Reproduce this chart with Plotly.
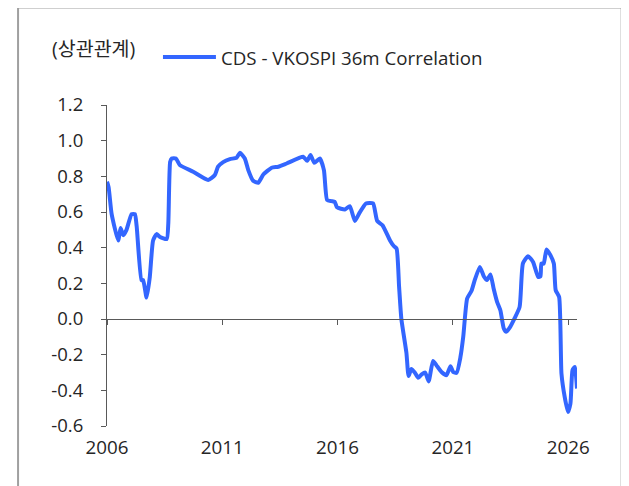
import plotly.graph_objects as go

# ---- data ----
dates = [
    "2006-01-01", "2006-01-26", "2006-03-15", "2006-06-28", "2006-08-04", "2006-09-16", "2006-11-06",
    "2007-01-26", "2007-03-18", "2007-04-16", "2007-07-01", "2007-07-27", "2007-09-20", "2007-11-10",
    "2008-01-01", "2008-02-25", "2008-04-20", "2008-08-04", "2008-08-29", "2008-09-27", "2008-10-23",
    "2008-12-27", "2009-02-28", "2009-09-27", "2010-05-22", "2010-09-05", "2010-10-26",
    "2011-01-15", "2011-05-01", "2011-08-15", "2011-10-08", "2011-12-24",
    "2012-02-17", "2012-05-04", "2012-07-24", "2012-10-12",
    "2013-02-21", "2013-06-07", "2013-10-16",
    "2014-07-05", "2014-09-06", "2014-10-30", "2014-12-28",
    "2015-03-26", "2015-05-30", "2015-07-20", "2015-09-27", "2015-11-17", "2015-12-24",
    "2016-04-27", "2016-07-13", "2016-10-01", "2016-12-09",
    "2017-03-26", "2017-07-16", "2017-09-20", "2017-12-13",
    "2018-04-09", "2018-06-10", "2018-07-24", "2018-09-02", "2018-10-08", "2018-12-27",
    "2019-01-30", "2019-03-15", "2019-05-08", "2019-07-02", "2019-08-26", "2019-10-20", "2019-12-14",
    "2020-02-21", "2020-04-16", "2020-07-05", "2020-09-20", "2020-11-24",
    "2021-01-05", "2021-03-01", "2021-05-01", "2021-06-14", "2021-08-15", "2021-10-23", "2021-12-13",
    "2022-03-04", "2022-05-05", "2022-06-25", "2022-08-19", "2022-10-08", "2022-12-02",
    "2023-01-23", "2023-03-18", "2023-04-27", "2023-06-28", "2023-09-05", "2023-11-24",
    "2024-01-15", "2024-04-05", "2024-06-24", "2024-09-13", "2024-10-19", "2024-11-03", "2024-12-09",
    "2025-01-23", "2025-03-26", "2025-05-19", "2025-06-17", "2025-08-11", "2025-09-17", "2025-11-07",
    "2025-12-28", "2026-02-06", "2026-03-11", "2026-04-16", "2026-05-21",
]
correlation = [
    0.77, 0.74, 0.59, 0.44, 0.51, 0.47, 0.50,
    0.588, 0.588, 0.52, 0.218, 0.218, 0.12, 0.236,
    0.44, 0.476, 0.46, 0.448, 0.536, 0.88, 0.90,
    0.90, 0.863, 0.826, 0.78, 0.807, 0.854,
    0.88, 0.897, 0.904, 0.932, 0.90,
    0.835, 0.775, 0.764, 0.81,
    0.848, 0.854, 0.872,
    0.91, 0.887, 0.919, 0.876,
    0.90, 0.835, 0.667, 0.661, 0.657, 0.626,
    0.614, 0.633, 0.55, 0.592,
    0.648, 0.648, 0.55, 0.526,
    0.442, 0.409, 0.395, 0.18, 0.0, -0.19,
    -0.32, -0.28, -0.30, -0.33, -0.31, -0.30, -0.35,
    -0.235, -0.26, -0.297, -0.315, -0.265,
    -0.297, -0.302, -0.213, -0.10, 0.115, 0.158, 0.218,
    0.292, 0.24, 0.218, 0.25, 0.171, 0.096,
    0.049, -0.053, -0.072, -0.044, 0.003, 0.068,
    0.311, 0.352, 0.32, 0.236, 0.24, 0.311, 0.31,
    0.39, 0.358, 0.311, 0.162, 0.124, -0.306, -0.437,
    -0.521, -0.474, -0.287, -0.269, -0.39,
]
series_name = "CDS - VKOSPI 36m Correlation"
unit_label = "(상관관계)"

x_tick_vals = ["2006-01-01", "2011-01-01", "2016-01-01", "2021-01-01", "2026-01-01"]
x_tick_text = ["2006", "2011", "2016", "2021", "2026"]
y_tick_vals = [1.2, 1.0, 0.8, 0.6, 0.4, 0.2, 0.0, -0.2, -0.4, -0.6]
y_tick_text = ["1.2", "1.0", "0.8", "0.6", "0.4", "0.2", "0.0", "-0.2", "-0.4", "-0.6"]

# ---- layout geometry (page body has an 8px margin) ----
OFF = 8
W, H = 629, 486
L, T = 107 - OFF, 105 - OFF
R = W - (577.3 - OFF)
B = H - (425.7 - OFF)
PW, PH = W - L - R, H - T - B


def px(xp):
    """reference screen x -> paper x"""
    return (xp - OFF - L) / PW


def py(yp):
    """reference screen y -> paper y"""
    return (H - B - (yp - OFF)) / PH


LINE_COLOR = "#3366FF"
AXIS_COLOR = "#595959"
TEXT_COLOR = "#262626"
FONT = "Open Sans, Noto Sans CJK KR, sans-serif"

fig = go.Figure()
fig.add_trace(go.Scatter(
    x=dates, y=correlation, mode="lines", name=series_name,
    line=dict(color=LINE_COLOR, width=4, shape="spline", smoothing=0.5),
    showlegend=False, xaxis="x", yaxis="y",
))
# invisible companion trace so the zero-line x axis is drawn
fig.add_trace(go.Scatter(
    x=dates, y=correlation, mode="lines", line=dict(width=0),
    opacity=0, showlegend=False, hoverinfo="skip", xaxis="x2", yaxis="y",
))

x_range = ["2006-01-01", "2026-05-21"]
y_min, y_max = -0.6, 1.2

fig.update_layout(
    width=W, height=H,
    margin=dict(l=L, r=R, t=T, b=B),
    paper_bgcolor="white", plot_bgcolor="white",
    font=dict(family=FONT, size=18, color=TEXT_COLOR),
    showlegend=False,
    xaxis=dict(
        type="date", range=x_range, tickvals=x_tick_vals, ticktext=x_tick_text,
        showgrid=False, zeroline=False, showline=False, ticks="",
        tickfont=dict(size=18.8, color=TEXT_COLOR), ticklabelstandoff=8,
    ),
    xaxis2=dict(
        type="date", range=x_range, overlaying="x", anchor="free",
        position=(0 - y_min) / (y_max - y_min),
        tickvals=x_tick_vals, showticklabels=False,
        showgrid=False, zeroline=False, showline=True, linecolor=AXIS_COLOR, linewidth=1,
        ticks="outside", ticklen=5, tickcolor=AXIS_COLOR, tickwidth=1,
    ),
    yaxis=dict(
        range=[y_min, y_max], tickvals=y_tick_vals, ticktext=y_tick_text,
        showgrid=False, zeroline=False, showline=True, linecolor=AXIS_COLOR, linewidth=1,
        ticks="outside", ticklen=5, tickcolor=AXIS_COLOR, tickwidth=1,
        tickfont=dict(size=18.5, color=TEXT_COLOR), ticklabelstandoff=14,
    ),
)

# outer frame
fig.add_shape(type="rect", xref="paper", yref="paper",
              x0=px(18), x1=px(622), y0=py(530), y1=py(7.5),
              line=dict(color="#A0A0A0", width=2), fillcolor="rgba(0,0,0,0)", layer="above")

# legend (drawn manually to match the longer sample line)
fig.add_shape(type="line", xref="paper", yref="paper",
              x0=px(163), x1=px(216), y0=py(57), y1=py(57),
              line=dict(color=LINE_COLOR, width=4))
fig.add_annotation(xref="paper", yref="paper", x=px(219), y=py(57.5),
                   xanchor="left", yanchor="middle", showarrow=False,
                   text=series_name, font=dict(size=18.7, color=TEXT_COLOR, family=FONT))
fig.add_annotation(xref="paper", yref="paper", x=px(50), y=py(49),
                   xanchor="left", yanchor="middle", showarrow=False,
                   text=unit_label, font=dict(size=19.5, color=TEXT_COLOR, family=FONT))

fig.write_html("out.html")
